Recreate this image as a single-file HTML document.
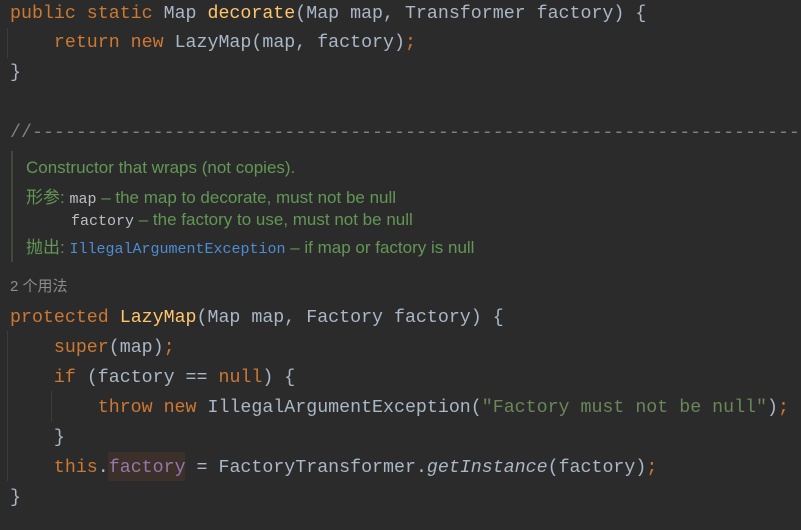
<!DOCTYPE html>
<html><head><meta charset="utf-8"><style>
html,body{margin:0;padding:0;background:#2b2b2b;width:801px;height:530px;overflow:hidden;position:relative}
.l{position:absolute;left:10px;white-space:pre;font-family:"Liberation Mono","Noto Sans CJK SC",monospace;font-size:18.3px;line-height:30px;height:30px;color:#a9b7c6}
.k{color:#cc7832}.m{color:#ffc66d}.f{color:#9876aa}.s{color:#6a8759}.c{color:#808080}.i{font-style:italic}
.d{position:absolute;left:26px;white-space:pre;font-family:"Liberation Sans","Noto Sans CJK SC",sans-serif;font-size:17px;color:#629755;line-height:22px}
.dm{font-family:"Liberation Mono",monospace;font-size:15px;color:#bcbec4}
.lk{font-family:"Liberation Mono",monospace;font-size:15px;color:#4c8dd6}
.g{position:absolute;width:1px;background:#3c3c3c}
</style></head><body>
<div class="g" style="left:7px;top:28px;height:30px"></div>
<div class="g" style="left:7px;top:331px;height:150px"></div>
<div class="g" style="left:51px;top:391px;height:31px"></div>
<div style="position:absolute;left:11px;top:151px;width:2px;height:111px;background:#3f4a3c"></div>
<div style="position:absolute;left:108px;top:452px;width:77px;height:29px;background:#3b302a"></div>
<div class="l" style="top:-1px"><span class="k">public static </span>Map <span class="m">decorate</span>(Map map, Transformer factory) {</div>
<div class="l" style="top:28px">    <span class="k">return new </span>LazyMap(map, factory)<span class="k">;</span></div>
<div class="l" style="top:58px">}</div>
<div class="l c" style="top:118px;overflow:hidden;width:800px">//--------------------------------------------------------------------------</div>
<div class="d" style="top:157px">Constructor that wraps (not copies).</div>
<div class="d" style="top:187px">形参: <span class="dm">map</span> – the map to decorate, must not be null</div>
<div class="d" style="top:209px;left:71px"><span class="dm">factory</span> – the factory to use, must not be null</div>
<div class="d" style="top:237px">抛出: <span class="lk">IllegalArgumentException</span> – if map or factory is null</div>
<div class="d" style="top:276px;left:10px;color:#8c8c8c;font-size:15px">2 个用法</div>
<div class="l" style="top:303px"><span class="k">protected </span><span class="m">LazyMap</span>(Map map, Factory factory) {</div>
<div class="l" style="top:333px">    <span class="k">super</span>(map)<span class="k">;</span></div>
<div class="l" style="top:363px">    <span class="k">if </span>(factory == <span class="k">null</span>) {</div>
<div class="l" style="top:393px">        <span class="k">throw new </span>IllegalArgumentException(<span class="s">"Factory must not be null"</span>)<span class="k">;</span></div>
<div class="l" style="top:423px">    }</div>
<div class="l" style="top:453px">    <span class="k">this</span>.<span class="f">factory</span> = FactoryTransformer.<span class="i">getInstance</span>(factory)<span class="k">;</span></div>
<div class="l" style="top:483px">}</div>
</body></html>
